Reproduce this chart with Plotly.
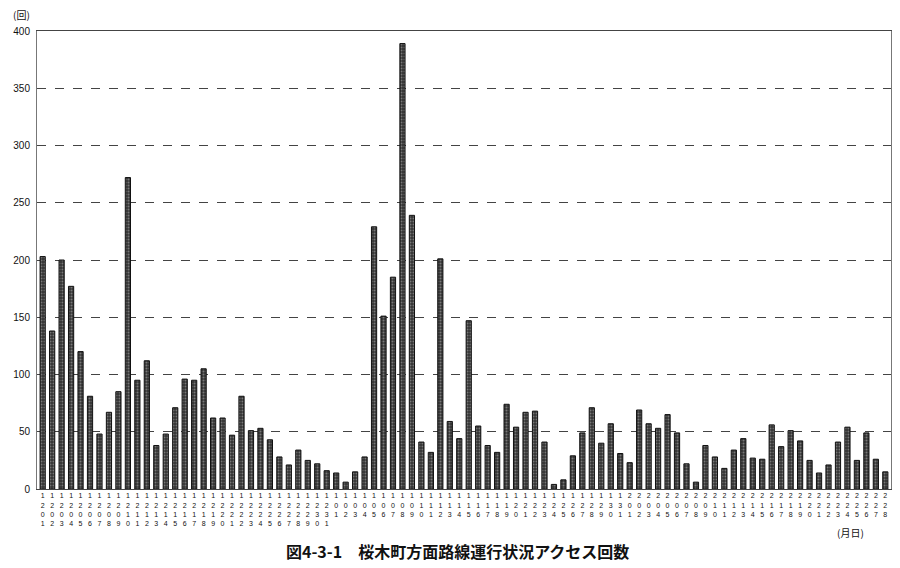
import plotly.graph_objects as go

dec_days = list(range(1, 32))
jan_days = list(range(1, 32))
feb_days = list(range(1, 29))

dec_values = [203, 138, 200, 177, 120, 81, 48, 67, 85, 272, 95, 112, 38, 48, 71, 96, 95, 105, 62, 62,
              47, 81, 51, 53, 43, 28, 21, 34, 25, 22, 16]
jan_values = [14, 6, 15, 28, 229, 151, 185, 389, 239, 41, 32, 201, 59, 44, 147, 55, 38, 32, 74, 54,
              67, 68, 41, 4, 8, 29, 49, 71, 40, 57, 31]
feb_values = [23, 69, 57, 53, 65, 49, 22, 6, 38, 28, 18, 34, 44, 27, 26, 56, 37, 51, 42, 25,
              14, 21, 41, 54, 25, 49, 26, 15]

y_ticks = [0, 50, 100, 150, 200, 250, 300, 350, 400]

categories = ([f"12{d:02d}" for d in dec_days] +
              [f"1{d:02d}" for d in jan_days] +
              [f"2{d:02d}" for d in feb_days])
values = dec_values + jan_values + feb_values
tick_text = ["<br>".join(list(c)) for c in categories]

fig = go.Figure()
fig.add_trace(go.Bar(
    x=categories, y=values,
    marker=dict(color="#333333", line=dict(color="#111111", width=1),
                pattern=dict(shape=".", fgcolor="#bdbdbd", size=3, solidity=0.35)),
    width=0.55,
))

# page body has an 8px default margin, so the figure is sized to fit inside the window
fig.update_layout(
    width=892, height=560,
    margin=dict(l=29, r=9, t=23, b=79),
    paper_bgcolor="white", plot_bgcolor="white",
    showlegend=False,
    font=dict(family="Liberation Sans, Arial, sans-serif", color="#111"),
    xaxis=dict(type="category", tickvals=categories, ticktext=tick_text,
               tickfont=dict(size=7, color="#111"), tickangle=0, automargin=False,
               showline=True, linecolor="#444", linewidth=1, mirror=True,
               ticks="", showgrid=False, range=[-0.6, len(categories) - 0.4]),
    yaxis=dict(range=[0, 400], tickvals=y_ticks, ticktext=[str(v) for v in y_ticks],
               tickfont=dict(size=10, color="#111"), automargin=False, ticklabelstandoff=4,
               showline=True, linecolor="#777", linewidth=1, mirror=True,
               showgrid=True, gridcolor="#444", griddash="dash", gridwidth=1,
               ticks="", zeroline=False),
    annotations=[
        dict(text="(回)", xref="paper", yref="paper", x=-0.0176, y=1.035,
             xanchor="center", yanchor="middle", showarrow=False,
             font=dict(size=10, family="Noto Sans CJK JP")),
        dict(text="(月日)", xref="paper", yref="paper", x=0.953, y=-0.096,
             xanchor="center", yanchor="middle", showarrow=False,
             font=dict(size=10, family="Noto Sans CJK JP")),
        dict(text="<b>図4-3-1　桜木町方面路線運行状況アクセス回数</b>", xref="paper", yref="paper",
             x=0.492, y=-0.135, xanchor="center", yanchor="middle", showarrow=False,
             font=dict(size=16, family="Noto Sans CJK JP")),
    ],
)

fig.write_html("out.html")
